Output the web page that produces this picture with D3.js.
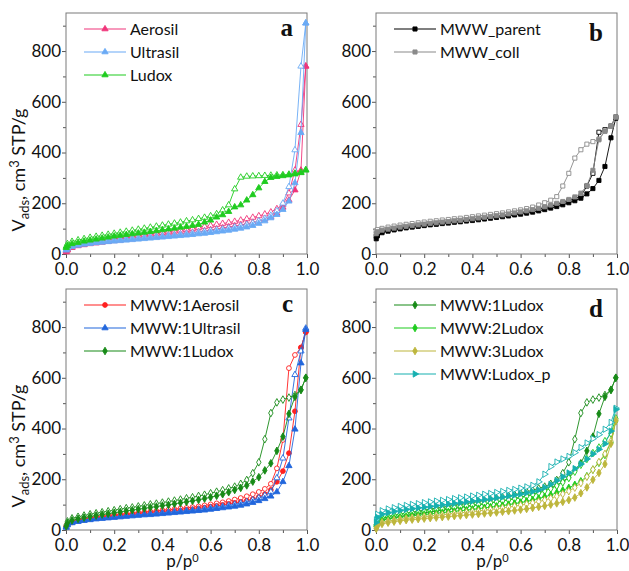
<!DOCTYPE html>
<html>
<head>
<meta charset="utf-8">
<script src="https://cdn.jsdelivr.net/npm/d3@7"></script>
<style>
  body { margin: 0; background: #fff; }
  text { font-family: Lato, "Open Sans", sans-serif; fill: #111; }
</style>
</head>
<body>
<svg id="fig" width="629" height="571"></svg>
<script>
// relative pressure grid p/p0 (same points for adsorption and desorption branches)
const pp = [0.001, 0.006, 0.025, 0.05, 0.075, 0.1, 0.125, 0.15, 0.175, 0.2, 0.225, 0.25, 0.275, 0.3,
  0.325, 0.35, 0.375, 0.4, 0.425, 0.45, 0.475, 0.5, 0.525, 0.55, 0.575, 0.6, 0.625, 0.65, 0.675, 0.7,
  0.725, 0.75, 0.775, 0.8, 0.825, 0.85, 0.875, 0.9, 0.925, 0.95, 0.975, 0.995];

const yTicks = [0, 200, 400, 600, 800];
const yMinor = [100, 300, 500, 700, 900];
const xTicks = [0, 0.2, 0.4, 0.6, 0.8, 1.0];
const xMinor = [0.1, 0.3, 0.5, 0.7, 0.9];

// panel a
const aerosilAds = [8, 15, 25, 32, 36, 40, 43, 46, 49, 52, 54, 57, 59, 62, 64, 67, 69, 72, 74, 77, 79, 82,
  85, 88, 91, 95, 98, 102, 106, 110, 114, 119, 124, 130, 137, 146, 160, 184, 212, 252, 330, 740];
const aerosilDes = [12, 20, 30, 38, 43, 47, 50, 54, 57, 60, 63, 66, 69, 72, 75, 78, 81, 84, 87, 90, 93, 96,
  100, 104, 108, 112, 116, 120, 124, 128, 133, 138, 144, 150, 157, 165, 178, 195, 240, 330, 510, 740];
const ultrasilAds = [15, 22, 29, 34, 38, 41, 44, 46, 48, 50, 52, 54, 56, 58, 60, 62, 64, 66, 68, 70, 72, 74,
  76, 79, 81, 84, 87, 90, 93, 97, 101, 106, 112, 120, 130, 142, 155, 175, 208, 280, 478, 910];
const ultrasilDes = [18, 26, 33, 38, 42, 45, 48, 50, 53, 55, 57, 59, 61, 63, 65, 67, 69, 71, 73, 75, 78, 80,
  83, 86, 89, 92, 95, 98, 102, 106, 111, 116, 122, 130, 140, 152, 170, 200, 265, 410, 740, 910];
const ludoxAds = [25, 33, 40, 45, 50, 54, 58, 62, 66, 70, 73, 76, 79, 82, 85, 88, 91, 95, 98, 101, 105, 108,
  112, 116, 125, 133, 145, 154, 167, 185, 193, 212, 233, 260, 285, 301, 305, 308, 311, 315, 320, 330];
const ludoxDes = [30, 40, 49, 55, 60, 65, 69, 73, 77, 81, 85, 89, 93, 97, 101, 105, 109, 113, 117, 121, 125, 130,
  134, 139, 144, 150, 158, 173, 193, 256, 302, 306, 307, 308, 309, 310, 311, 312, 314, 318, 322, 332];

// panel b
const parentAds = [60, 72, 84, 90, 95, 99, 103, 106, 109, 112, 115, 117, 120, 122, 125, 127, 130, 132, 135, 138, 141, 144,
  147, 150, 154, 157, 161, 165, 170, 175, 181, 187, 194, 202, 210, 220, 237, 258, 290, 345, 458, 535];
const parentDes = [70, 80, 88, 94, 98, 102, 106, 109, 112, 115, 118, 121, 124, 126, 129, 131, 134, 137, 140, 143, 146, 149,
  152, 156, 159, 163, 167, 172, 177, 182, 188, 195, 202, 210, 218, 228, 268, 318, 480, 490, 505, 540];
const collAds = [80, 88, 94, 98, 102, 106, 109, 112, 115, 118, 121, 123, 126, 128, 131, 133, 136, 139, 142, 145, 148, 151,
  154, 158, 162, 166, 170, 175, 180, 186, 193, 200, 207, 215, 225, 240, 270, 330, 450, 485, 505, 540];
const collDes = [90, 96, 101, 106, 110, 114, 117, 120, 123, 126, 129, 131, 134, 136, 139, 141, 144, 147, 150, 153, 156, 159,
  162, 166, 170, 174, 179, 185, 193, 202, 212, 226, 268, 318, 378, 411, 433, 443, 453, 483, 505, 540];

// panel c
const mAerosilAds = [12, 22, 30, 36, 40, 44, 47, 50, 53, 55, 57, 59, 61, 63, 65, 67, 69, 71, 73, 75, 77, 80,
  82, 85, 88, 92, 95, 99, 103, 107, 111, 116, 122, 130, 141, 158, 190, 232, 303, 468, 720, 780];
const mAerosilDes = [15, 25, 33, 39, 44, 48, 51, 54, 57, 60, 62, 64, 66, 69, 71, 73, 75, 78, 80, 82, 85, 87,
  90, 93, 97, 101, 105, 109, 114, 120, 126, 133, 141, 150, 162, 182, 243, 355, 638, 690, 718, 780];
const mUltrasilAds = [10, 20, 28, 33, 37, 40, 43, 45, 47, 49, 51, 53, 55, 57, 59, 60, 62, 64, 66, 68, 70, 72,
  74, 76, 78, 81, 84, 87, 90, 93, 97, 102, 108, 115, 123, 133, 150, 190, 253, 397, 658, 790];
const mUltrasilDes = [14, 24, 31, 36, 40, 43, 46, 48, 50, 52, 54, 56, 58, 60, 62, 64, 66, 68, 70, 72, 74, 76,
  78, 81, 84, 87, 90, 93, 97, 101, 106, 111, 118, 126, 136, 150, 205, 283, 441, 612, 705, 795];
const mLudox1Ads = [15, 28, 38, 44, 49, 53, 57, 61, 64, 68, 71, 75, 78, 82, 85, 89, 92, 96, 99, 103, 107, 111,
  115, 119, 124, 129, 135, 141, 149, 158, 166, 176, 191, 208, 235, 263, 312, 368, 458, 525, 552, 600];
const mLudox1Des = [20, 34, 46, 52, 57, 62, 66, 70, 74, 78, 82, 86, 89, 93, 97, 101, 104, 108, 112, 116, 120, 125,
  129, 134, 139, 145, 151, 157, 164, 171, 182, 197, 224, 267, 358, 461, 503, 514, 522, 532, 553, 600];

// panel d
const mLudox2Ads = [15, 28, 38, 43, 47, 50, 53, 56, 58, 61, 63, 66, 68, 71, 73, 76, 78, 81, 84, 87, 90, 93,
  96, 100, 104, 108, 113, 118, 124, 131, 138, 147, 156, 166, 178, 192, 212, 238, 265, 296, 345, 430];
const mLudox2Des = [20, 35, 48, 54, 58, 62, 65, 68, 71, 74, 77, 80, 83, 86, 89, 92, 95, 98, 101, 104, 107, 111,
  115, 119, 123, 128, 133, 139, 146, 154, 163, 174, 188, 205, 230, 257, 280, 303, 325, 350, 380, 440];
const mLudox3Ads = [5, 15, 24, 29, 33, 36, 39, 41, 43, 45, 47, 49, 51, 53, 55, 57, 59, 61, 63, 65, 67, 69,
  72, 74, 77, 80, 83, 87, 91, 95, 100, 105, 111, 118, 128, 145, 168, 198, 225, 260, 340, 430];
const mLudox3Des = [8, 20, 30, 35, 39, 42, 45, 48, 50, 53, 55, 58, 60, 63, 65, 68, 70, 73, 75, 78, 81, 84,
  87, 90, 94, 98, 102, 107, 112, 118, 125, 133, 142, 153, 167, 185, 210, 238, 268, 300, 350, 435];
const mLudoxPAds = [30, 50, 62, 68, 73, 77, 81, 84, 87, 90, 93, 96, 99, 102, 105, 108, 111, 114, 117, 120, 123, 127,
  130, 134, 138, 142, 147, 152, 158, 168, 180, 195, 210, 225, 242, 260, 280, 300, 318, 340, 390, 475];
const mLudoxPDes = [40, 62, 76, 83, 88, 93, 97, 101, 104, 108, 111, 114, 117, 120, 124, 127, 130, 134, 137, 141, 144, 148,
  152, 156, 160, 165, 170, 176, 190, 220, 250, 268, 280, 290, 305, 325, 343, 360, 376, 397, 424, 480];

const panels = [
  { tag: 'a', left: 66, top: 13, yTitle: true, xTitle: false, tagDy: 23, series: [
    { name: 'Aerosil', color: '#f0357a', shape: 'tri', ads: aerosilAds, des: aerosilDes },
    { name: 'Ultrasil', color: '#6aaaf5', shape: 'tri', ads: ultrasilAds, des: ultrasilDes },
    { name: 'Ludox', color: '#1fcc1f', shape: 'tri', ads: ludoxAds, des: ludoxDes }
  ]},
  { tag: 'b', left: 376, top: 13, yTitle: false, xTitle: false, tagDy: 28, series: [
    { name: 'MWW_parent', color: '#000000', shape: 'sq', ads: parentAds, des: parentDes },
    { name: 'MWW_coll', color: '#8a8a8a', shape: 'sq', ads: collAds, des: collDes }
  ]},
  { tag: 'c', left: 66, top: 289, yTitle: true, xTitle: true, tagDy: 23, series: [
    { name: 'MWW:1Aerosil', color: '#ff2020', shape: 'circ', ads: mAerosilAds, des: mAerosilDes },
    { name: 'MWW:1Ultrasil', color: '#2166dc', shape: 'tri', ads: mUltrasilAds, des: mUltrasilDes },
    { name: 'MWW:1Ludox', color: '#178a17', shape: 'dia', ads: mLudox1Ads, des: mLudox1Des }
  ]},
  { tag: 'd', left: 376, top: 289, yTitle: false, xTitle: true, tagDy: 28, series: [
    { name: 'MWW:1Ludox', color: '#178a17', shape: 'dia', ads: mLudox1Ads, des: mLudox1Des },
    { name: 'MWW:2Ludox', color: '#1fcc1f', shape: 'dia', ads: mLudox2Ads, des: mLudox2Des },
    { name: 'MWW:3Ludox', color: '#bdb63c', shape: 'dia', ads: mLudox3Ads, des: mLudox3Des },
    { name: 'MWW:Ludox_p', color: '#16b0b0', shape: 'rtri', ads: mLudoxPAds, des: mLudoxPDes }
  ]}
];

const W = 241, H = 241;
const svg = d3.select('#fig');

const shapes = {
  tri: { type: d3.symbolTriangle, size: 17, rot: 0 },
  rtri: { type: d3.symbolTriangle, size: 17, rot: 90 },
  sq: { type: d3.symbolSquare, size: 17, rot: 0 },
  circ: { type: d3.symbolCircle, size: 18, rot: 0 },
  dia: { type: d3.symbolDiamond, size: 17, rot: 0 }
};

function marker(g, shape, color, filled, x, y) {
  const s = shapes[shape];
  g.append('path')
    .attr('d', d3.symbol().type(s.type).size(s.size)())
    .attr('transform', `translate(${x},${y}) rotate(${s.rot})`)
    .attr('fill', filled ? color : '#fff')
    .attr('stroke', color)
    .attr('stroke-width', 0.9);
}

panels.forEach(p => {
  const x = d3.scaleLinear().domain([0, 1]).range([p.left, p.left + W]);
  const y = d3.scaleLinear().domain([0, 950]).range([p.top + H, p.top]);
  const g = svg.append('g');

  // axes (major + minor ticks, outward)
  g.append('g').attr('transform', `translate(${p.left},0)`)
    .call(d3.axisLeft(y).tickValues(yTicks).tickSize(4).tickPadding(1));
  g.append('g').attr('transform', `translate(${p.left},0)`)
    .call(d3.axisLeft(y).tickValues(yMinor).tickSize(3).tickFormat(''));
  g.append('g').attr('transform', `translate(0,${p.top + H})`)
    .call(d3.axisBottom(x).tickValues(xTicks).tickSize(4).tickPadding(5).tickFormat(d3.format('.1f')));
  g.append('g').attr('transform', `translate(0,${p.top + H})`)
    .call(d3.axisBottom(x).tickValues(xMinor).tickSize(3).tickFormat(''));
  g.selectAll('.domain').remove();
  g.selectAll('.tick line').attr('stroke', '#555');
  g.selectAll('.tick text').style('font-size', '17px').style('font-family', 'Lato, sans-serif').attr('fill', '#111');

  g.append('rect')
    .attr('x', p.left).attr('y', p.top).attr('width', W).attr('height', H)
    .attr('fill', 'none').attr('stroke', '#7a7a7a').attr('stroke-width', 1);

  const line = d3.line().x((d, i) => x(pp[i])).y(d => y(d));

  p.series.forEach(s => {
    [['des', false], ['ads', true]].forEach(([key, filled]) => {
      const vals = s[key];
      g.append('path').datum(vals)
        .attr('d', line)
        .attr('fill', 'none')
        .attr('stroke', s.color)
        .attr('stroke-width', 0.9);
      const mg = g.append('g');
      vals.forEach((v, i) => marker(mg, s.shape, s.color, filled, x(pp[i]), y(v)));
    });
  });

  // legend
  p.series.forEach((s, i) => {
    const lx = p.left + 18, ly = p.top + 16 + i * 23;
    g.append('line').attr('x1', lx).attr('x2', lx + 42).attr('y1', ly).attr('y2', ly)
      .attr('stroke', s.color).attr('stroke-width', 1.2);
    marker(g, s.shape, s.color, true, lx + 21, ly);
    g.append('text').attr('x', lx + 46).attr('y', ly).attr('dy', '0.35em')
      .style('font-size', '16px').text(s.name);
  });

  // panel tag
  g.append('text').attr('x', p.left + W - 14).attr('y', p.top + p.tagDy)
    .attr('text-anchor', 'end')
    .style('font-family', '"Liberation Serif", serif').style('font-weight', 'bold').style('font-size', '25px')
    .text(p.tag);

  if (p.yTitle) {
    const t = g.append('text')
      .attr('transform', `translate(25,${p.top + 157}) rotate(-90)`)
      .attr('text-anchor', 'middle')
      .style('font-size', '18px');
    t.append('tspan').text('V');
    t.append('tspan').attr('dy', 4).style('font-size', '13px').text('ads');
    t.append('tspan').attr('dy', -4).text(', cm');
    t.append('tspan').attr('dy', -6).style('font-size', '13px').text('3');
    t.append('tspan').attr('dy', 6).text(' STP/g');
  }
  if (p.xTitle) {
    const t = g.append('text')
      .attr('x', p.left + W / 2 - 4).attr('y', p.top + H + 37)
      .attr('text-anchor', 'middle')
      .style('font-size', '17px');
    t.append('tspan').text('p/p');
    t.append('tspan').attr('dy', -5).style('font-size', '11px').text('0');
  }
});
</script>
</body>
</html>
